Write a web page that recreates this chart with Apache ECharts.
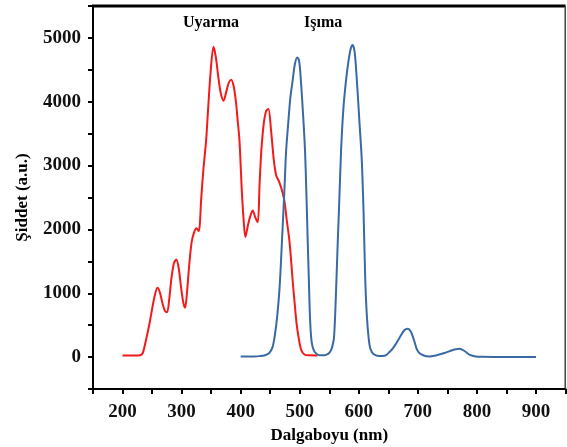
<!DOCTYPE html>
<html lang="tr">
<head>
<meta charset="UTF-8">
<title>Uyarma / Işıma</title>
<style>
html,body{margin:0;padding:0;background:#fff;}
</style>
</head>
<body>
<div id="chart" style="width:567px;height:447px;"></div>
<script src="https://cdn.jsdelivr.net/npm/echarts/dist/echarts.min.js"></script>
<script>
// uyarma (red) spektrumu
var redX = [200, 210, 220, 230, 234, 237, 241, 245.6, 250, 254, 259, 263, 268, 272, 275.5, 279, 283, 287, 291, 295, 299, 303, 306,
	309, 313, 317, 321, 325, 329, 331, 333, 337, 341.5, 345, 349, 354, 358, 362, 366, 371, 376, 380, 384, 388, 392, 395, 398,
	402, 405, 408, 412, 416, 420.4, 425, 429, 432, 435, 439, 443, 447, 451.5, 456, 460, 465, 469, 474, 478, 482.5, 486, 488,
	491, 495, 499, 503, 508, 515, 530];
var redY = [25, 25, 25, 28, 60, 156, 320, 523, 750, 939, 1086, 1020, 830, 720, 704, 900, 1250, 1470, 1529, 1400, 1100, 850, 773,
	1000, 1450, 1800, 1950, 2020, 1975, 2100, 2452, 2950, 3391, 3900, 4450, 4862, 4700, 4400, 4150, 4017, 4170, 4300, 4346, 4250, 4000, 3700, 3391,
	2600, 2150, 1880, 2050, 2200, 2296, 2180, 2113, 2700, 3235, 3650, 3850, 3887, 3547, 3100, 2850, 2750, 2640, 2452, 2150, 1826, 1450, 1200,
	887, 500, 260, 100, 40, 27, 25];

// ışıma (blue) spektrumu
var blueX = [400, 410, 420, 432, 440, 448, 454, 458, 462, 466, 470, 474, 477, 480, 484, 488, 492, 496, 499, 502, 506, 509, 511.5,
	513.5, 515.5, 517.5, 520, 524, 530, 536, 542, 548, 552, 555, 558, 561, 564, 567, 570, 574, 578, 582, 586, 589.6, 593, 597,
	601, 605, 608, 611, 614, 618, 622, 628, 635, 645, 652, 658, 663, 670, 677, 683, 688, 693, 698, 703, 710, 719, 728, 736, 745,
	753, 762, 771, 779, 787, 798, 810, 830, 860, 900];
var blueY = [8, 8, 10, 15, 25, 60, 156, 350, 650, 1100, 1826, 2600, 3232, 3600, 4050, 4330, 4600, 4695, 4640, 4330, 3750, 3232, 2500,
	1826, 1200, 600, 250, 100, 40, 27, 30, 50, 90, 160, 300, 900, 1700, 2452, 3232, 3900, 4300, 4600, 4820, 4890, 4780, 4300,
	3700, 3100, 2300, 1200, 600, 200, 80, 30, 16, 25, 80, 140, 210, 320, 420, 444, 400, 280, 130, 60, 25, 11, 20, 40, 65,
	90, 118, 131, 95, 40, 10, 5, 3, 3, 3];

var xLabels = [200, 300, 400, 500, 600, 700, 800, 900];
var yLabels = [0, 1000, 2000, 3000, 4000, 5000];
var xRange = [150, 950];
var yRange = [-500, 5500];

function pairs(xs, ys) {
	var out = [];
	for (var i = 0; i < xs.length; i++) out.push([xs[i], ys[i]]);
	return out;
}

var font = 'Liberation Serif, Times New Roman, serif';
var plain = function (v) { return String(v); };
var myChart = echarts.init(document.getElementById('chart'));

var titles = [
	{ type: 'text', left: 183, top: 15, style: { text: 'Uyarma', font: 'bold 16px ' + font, fill: '#000' } },
	{ type: 'text', left: 304, top: 15, style: { text: 'Işıma', font: 'bold 16px ' + font, fill: '#000' } }
];

var option = {
	backgroundColor: '#fff',
	animation: false,
	grid: {
		left: 93, right: 1.5, top: 6, bottom: 58,
		outerBoundsMode: 'none', containLabel: false
	},
	xAxis: {
		type: 'value', min: xRange[0], max: xRange[1], interval: 50,
		name: 'Dalgaboyu (nm)', nameLocation: 'middle', nameGap: 37,
		nameTextStyle: { fontFamily: font, fontWeight: 'bold', fontSize: 17, color: '#000' },
		axisLine: { show: true, onZero: false, lineStyle: { color: '#000', width: 2 } },
		axisTick: { show: true, length: 5, lineStyle: { color: '#000', width: 2 } },
		axisLabel: { customValues: xLabels, formatter: plain, margin: 14, fontFamily: font, fontWeight: 'bold', fontSize: 19, color: '#111' },
		splitLine: { show: false }
	},
	yAxis: {
		type: 'value', min: yRange[0], max: yRange[1], interval: 500,
		name: 'Şiddet (a.u.)', nameLocation: 'middle', nameGap: 62,
		nameTextStyle: { fontFamily: font, fontWeight: 'bold', fontSize: 17, color: '#000' },
		axisLine: { show: true, onZero: false, lineStyle: { color: '#000', width: 2 } },
		axisTick: { show: true, length: 5, lineStyle: { color: '#000', width: 2 } },
		axisLabel: { customValues: yLabels, formatter: plain, margin: 12, fontFamily: font, fontWeight: 'bold', fontSize: 19, color: '#111' },
		splitLine: { show: false }
	},
	graphic: titles,
	series: [{
		name: 'Uyarma', type: 'line', smooth: 0.3, showSymbol: false,
		lineStyle: { color: '#f21a1a', width: 2 },
		data: pairs(redX, redY)
	}, {
		name: 'Işıma', type: 'line', smooth: 0.3, showSymbol: false,
		lineStyle: { color: '#3a6aa3', width: 2 },
		data: pairs(blueX, blueY)
	}]
};
myChart.setOption(option);

// çerçeve: üst kalın, sağ ince, alt eksen çizgisi (dolu dikdörtgenler)
var p0 = myChart.convertToPixel({ gridIndex: 0 }, [xRange[0], yRange[0]]);
var p1 = myChart.convertToPixel({ gridIndex: 0 }, [xRange[1], yRange[1]]);
var w = p1[0] - p0[0];
myChart.setOption({
	graphic: titles.concat([
		{ type: 'rect', z: 10, shape: { x: p0[0] - 1, y: p1[1] - 1.5, width: w + 1, height: 3 }, style: { fill: '#000' } },
		{ type: 'rect', z: 10, shape: { x: p1[0] - 1, y: p1[1], width: 1.5, height: p0[1] - p1[1] }, style: { fill: '#444' } },
		{ type: 'rect', z: 10, shape: { x: p0[0] - 1, y: p0[1] - 1, width: w + 1, height: 2 }, style: { fill: '#000' } }
	])
});
</script>
</body>
</html>
